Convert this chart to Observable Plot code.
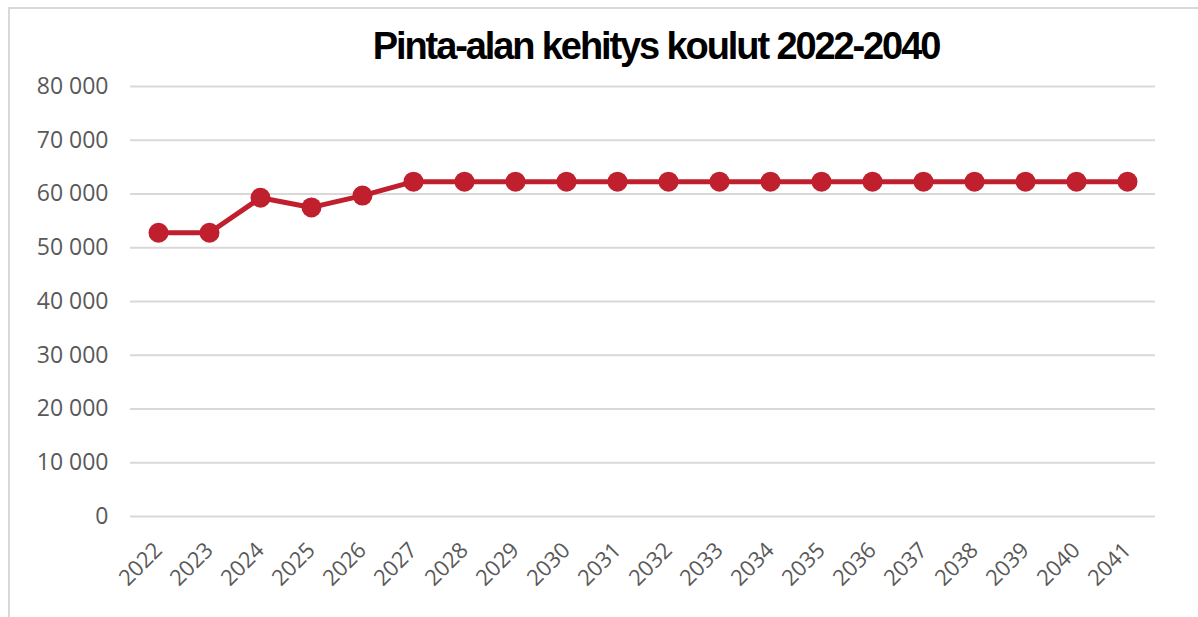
<!DOCTYPE html>
<html>
<head>
<meta charset="utf-8">
<script src="https://cdn.jsdelivr.net/npm/d3@7"></script>
<script src="https://cdn.jsdelivr.net/npm/@observablehq/plot@0.6"></script>
<style>
  html, body { margin: 0; padding: 0; background: #fff; }
  #page { position: relative; width: 1198px; height: 617px; overflow: hidden; }
  #frame { position: absolute; left: 8px; top: 7px; width: 1300px; height: 700px; border: 2px solid #d9d9d9; box-sizing: border-box; }
  #title { position: absolute; left: 0; top: 11px; width: 1198px; height: 58px; padding-left: 114px; box-sizing: border-box;
           text-align: center; font-family: "Liberation Sans", Arial, sans-serif; font-weight: bold; font-size: 38px;
           letter-spacing: -2.1px; line-height: 70px; color: #000; }
  #chart { position: absolute; left: 0; top: 70px; }
</style>
</head>
<body>
<div id="page">
  <div id="frame"></div>
  <div id="title">Pinta-alan kehitys koulut 2022-2040</div>
  <div id="chart"></div>
</div>
<script>
const years = ["2022","2023","2024","2025","2026","2027","2028","2029","2030","2031",
               "2032","2033","2034","2035","2036","2037","2038","2039","2040","2041"];
const areas = [52800, 52800, 59300, 57500, 59700, 62300, 62300, 62300, 62300, 62300,
               62300, 62300, 62300, 62300, 62300, 62300, 62300, 62300, 62300, 62300];
const yTicks = [0, 10000, 20000, 30000, 40000, 50000, 60000, 70000, 80000];

const data = years.map((y, i) => ({year: y, value: areas[i]}));
const fmt = d => d3.format(",")(d).replace(/,/g, " ");
const red = "#C0202E";

const chart = Plot.plot({
  width: 1198,
  height: 547,
  marginLeft: 130,
  marginRight: 43,
  marginTop: 16,
  marginBottom: 101,
  style: { fontFamily: "'Open Sans', sans-serif", background: "transparent" },
  x: { type: "point", domain: years, padding: 0.5, label: null },
  y: { domain: [0, 80000], label: null },
  marks: [
    Plot.gridY(yTicks, { stroke: "#d9d9d9", strokeOpacity: 1, strokeWidth: 2 }),
    Plot.axisY(yTicks, { tickSize: 0, tickPadding: 22, tickFormat: fmt, fontSize: 23, fill: "#595959" }),
    Plot.axisX(years, { tickSize: 0, tickRotate: -45, tickPadding: 30, fontSize: 22, fill: "#595959", textAnchor: "end" }),
    Plot.line(data, { x: "year", y: "value", stroke: red, strokeWidth: 5 }),
    Plot.dot(data, { x: "year", y: "value", r: 10, fill: red, stroke: "none" })
  ]
});
document.getElementById("chart").appendChild(chart);
</script>
</body>
</html>
